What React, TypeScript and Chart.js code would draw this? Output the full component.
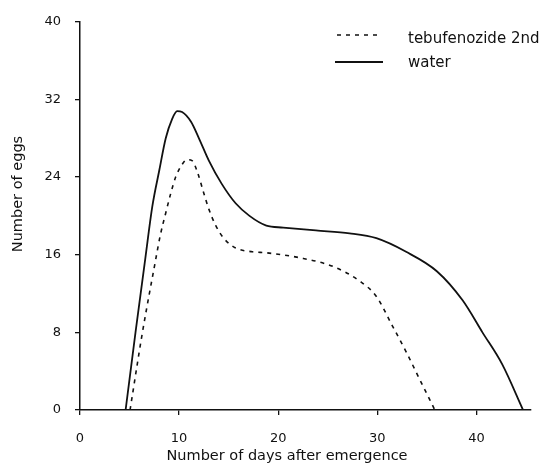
import React, { useEffect, useRef } from "react";
import { Chart, registerables } from "chart.js";

Chart.register(...registerables);

// Data (before onset the curves lie on the x axis)
const waterDays = [4.6, 5.6, 6.6, 7.3, 8.0, 8.65, 9.3, 9.8, 10.3, 11.2, 12.0, 13.0, 14.3, 15.7, 17.1, 18.8, 20.5, 23.8, 27.2, 29.9, 32.9, 36.0, 38.6, 40.6, 42.6, 44.7];
const waterEggs = [0, 8, 15.7, 21, 24.7, 28, 30, 30.8, 30.7, 29.7, 28, 25.7, 23.3, 21.3, 20, 19, 18.8, 18.5, 18.2, 17.7, 16.3, 14.3, 11.3, 8.0, 4.7, 0];

const tebDays = [5.05, 6.3, 7.6, 8.1, 8.65, 9.15, 9.65, 10.3, 10.8, 11.3, 11.85, 12.5, 13.0, 13.7, 14.5, 15.7, 17.4, 18.8, 22.1, 25.5, 28.2, 29.9, 31.5, 32.9, 34.2, 35.8];
const tebEggs = [0, 8, 15.3, 18, 20.3, 22.3, 24, 25.3, 25.8, 25.7, 24.5, 22.3, 20.7, 19, 17.7, 16.7, 16.3, 16.2, 15.7, 14.8, 13.3, 11.7, 8.7, 6.0, 3.3, 0];

const xTickValues = [0, 10, 20, 30, 40];
const seriesLabels = ["tebufenozide 2nd", "water"];
const xTitle = "Number of days after emergence";
const yTitle = "Number of eggs";

const FONT = "'DejaVu Sans', 'Liberation Sans', Arial, sans-serif";
const INK = "#111";

const toPoints = (xs: number[], ys: number[]) => xs.map((x, i) => ({ x, y: ys[i] }));

const textPlugin = {
  id: "textPlugin",
  afterDraw(chart: any) {
    const ctx = chart.ctx as CanvasRenderingContext2D;
    ctx.save();
    ctx.fillStyle = INK;
    // axis titles
    ctx.font = `14.5px ${FONT}`;
    ctx.textAlign = "center";
    ctx.textBaseline = "middle";
    ctx.fillText(xTitle, 287, 456);
    ctx.save();
    ctx.translate(18, 194);
    ctx.rotate(-Math.PI / 2);
    ctx.fillText(yTitle, 0, 0);
    ctx.restore();

    // legend
    const rows = [
      { y: 35, x0: 337, x1: 379, ty: 43 },
      { y: 62, x0: 335, x1: 383, ty: 67 },
    ];
    ctx.font = `15px ${FONT}`;
    ctx.textAlign = "left";
    ctx.textBaseline = "alphabetic";
    chart.data.datasets.forEach((ds: any, i: number) => {
      const r = rows[i];
      ctx.beginPath();
      ctx.strokeStyle = ds.borderColor;
      ctx.lineWidth = ds.borderWidth;
      ctx.setLineDash(ds.borderDash || []);
      ctx.moveTo(r.x0, r.y);
      ctx.lineTo(r.x1, r.y);
      ctx.stroke();
      ctx.setLineDash([]);
      ctx.fillText(ds.label, 408, r.ty);
    });
    ctx.restore();
  },
};

export default function App() {
  const ref = useRef<HTMLCanvasElement | null>(null);

  useEffect(() => {
    if (!ref.current) return;
    const chart = new Chart(ref.current, {
      type: "line",
      data: {
        datasets: [
          {
            label: seriesLabels[0],
            data: toPoints(tebDays, tebEggs),
            borderColor: INK,
            borderWidth: 1.6,
            borderDash: [4, 5],
            pointRadius: 0,
            cubicInterpolationMode: "monotone",
            fill: false,
          },
          {
            label: seriesLabels[1],
            data: toPoints(waterDays, waterEggs),
            borderColor: INK,
            borderWidth: 1.8,
            pointRadius: 0,
            cubicInterpolationMode: "monotone",
            fill: false,
          },
        ],
      },
      options: {
        animation: false,
        responsive: true,
        maintainAspectRatio: false,
        layout: { padding: { left: 0, top: 10, right: 14, bottom: 0 } },
        plugins: { legend: { display: false }, tooltip: { enabled: false } },
        scales: {
          x: {
            type: "linear",
            min: 0,
            max: 45.5,
            afterFit: (s: any) => {
              s.height = 58;
            },
            afterBuildTicks: (s: any) => {
              s.ticks = xTickValues.map((v) => ({ value: v }));
            },
            ticks: {
              color: INK,
              font: { family: FONT, size: 13 },
              padding: 16,
              maxRotation: 0,
            },
            grid: { drawOnChartArea: false, drawTicks: true, tickLength: 5, color: INK, lineWidth: 1.3 },
            border: { display: true, color: INK, width: 1.5 },
          },
          y: {
            min: 0,
            max: 40,
            afterFit: (s: any) => {
              s.width = 80;
            },
            ticks: {
              stepSize: 8,
              color: INK,
              font: { family: FONT, size: 13 },
              padding: 14,
            },
            grid: { drawOnChartArea: false, drawTicks: true, tickLength: 5, color: INK, lineWidth: 1.3 },
            border: { display: true, color: INK, width: 1.5 },
          },
        },
      },
      plugins: [textPlugin],
    } as any);
    return () => chart.destroy();
  }, []);

  return (
    <div style={{ position: "absolute", left: 0, top: 0, width: 545, height: 468, background: "#fff" }}>
      <canvas ref={ref} />
    </div>
  );
}
